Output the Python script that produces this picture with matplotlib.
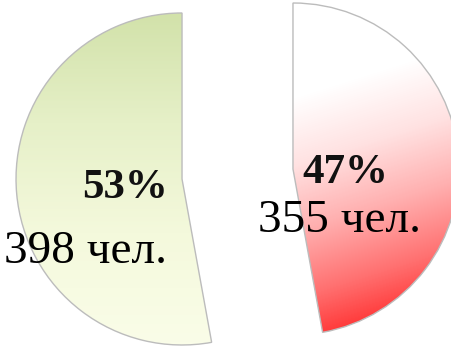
import numpy as np
import matplotlib
matplotlib.use('Agg')
import matplotlib.pyplot as plt
from matplotlib.colors import LinearSegmentedColormap

# data
counts = [398, 355]
percent_labels = ['53%', '47%']
count_labels = ['398 чел.', '355 чел.']

W, H = 452, 347

fig = plt.figure(figsize=(W / 100, H / 100), dpi=100)
ax = fig.add_axes([0, 0, 1, 1])

# explode is in data units (pixels here)
wedges, _ = ax.pie(counts, center=(237.5, 173), radius=166, explode=[55.7, 55.7],
                   startangle=90, counterclock=True, frame=True,
                   wedgeprops=dict(facecolor='none', edgecolor='#bcbcbc', linewidth=1.0))
ax.set_xlim(0, W)
ax.set_ylim(0, H)
ax.set_aspect('equal')
ax.axis('off')

green = LinearSegmentedColormap.from_list('g', ['#d2e2aa', '#e6f0c8', '#f4f9dc', '#fafde8'])
red = LinearSegmentedColormap.from_list('r', [(0, '#ffffff'), (0.25, '#ffe2e2'),
                                              (0.5, '#ffb0b0'), (0.75, '#ff7070'),
                                              (1, '#ff2020')])

yy, xx = np.mgrid[H:0:-1, 0:W]
# left wedge: vertical gradient
t_left = np.clip((H - yy - 13) / 330.0, 0, 1)
# right wedge: gradient from white top to red bottom-right
t_right = np.clip(((H - yy - 95) * 0.95 + (xx - 300) * 0.3) / 255.0, 0, 1)

for w, t, cmap in zip(wedges, [t_left, t_right], [green, red]):
    im = ax.imshow(t, cmap=cmap, vmin=0, vmax=1, extent=(0, W, 0, H),
                   origin='upper', zorder=0, interpolation='bilinear')
    im.set_clip_path(w)
    w.set_zorder(2)

font = ['Liberation Serif', 'DejaVu Serif']
ax.text(125, H - 198, percent_labels[0], ha='center', va='baseline',
        fontsize=31, fontweight='bold', family=font, color='#111111', zorder=5)
ax.text(86, H - 263, count_labels[0], ha='center', va='baseline',
        fontsize=34, family=font, color='black', zorder=5)
ax.text(345, H - 183, percent_labels[1], ha='center', va='baseline',
        fontsize=31, fontweight='bold', family=font, color='#111111', zorder=5)
ax.text(340, H - 232, count_labels[1], ha='center', va='baseline',
        fontsize=34, family=font, color='black', zorder=5)

fig.savefig('out.png', dpi=100)
